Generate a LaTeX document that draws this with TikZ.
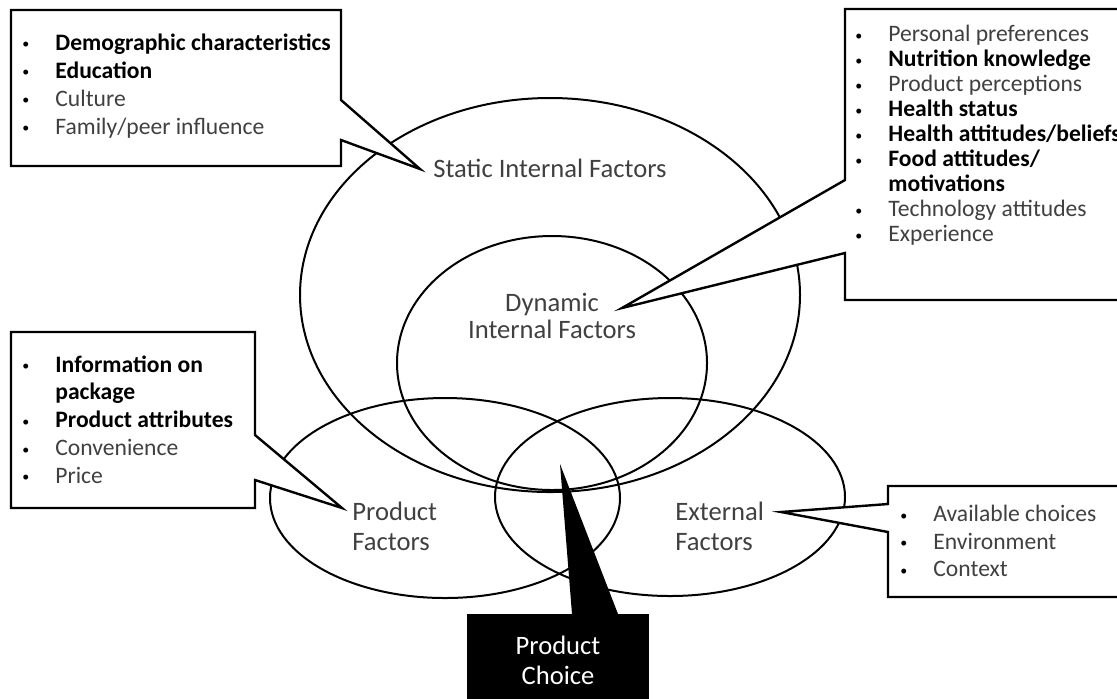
\documentclass[tikz,border=0pt]{standalone}
\usepackage{fontspec}
\setmainfont{Carlito}
\usepackage{xcolor}

\definecolor{txtgray}{RGB}{64,64,64}
\newcommand{\bul}{\makebox[17.5pt][l]{\hspace{1pt}\raisebox{0.7pt}{\fontsize{7}{7}\selectfont\textbullet}}}
\newcommand{\bitem}[1]{\bul\textbf{#1}}
\newcommand{\nitem}[1]{\bul{\color{txtgray}#1}}
\newcommand{\cont}[1]{\hspace*{17.5pt}\textbf{#1}}

\begin{document}
\begin{tikzpicture}[x=0.5pt, y=-0.5pt,
    ring/.style={line width=1pt},
    callout/.style={draw, fill=white, line width=1.2pt, line join=miter},
    list/.style={anchor=north west, inner sep=0pt, align=left},
    tag/.style={inner sep=0pt, text=txtgray, font=\fontsize{13.3}{15}\selectfont}]

        \clip (0, 0) rectangle (1117, 698);

        % the four factor ellipses
        \draw[ring] (550, 295) ellipse [x radius=250, y radius=197];
        \draw[ring] (552, 363) ellipse [x radius=155, y radius=127];
        \draw[ring] (445, 498) ellipse [x radius=175, y radius=100];
        \draw[ring] (670, 497) ellipse [x radius=175, y radius=99];

        % callout top left
        \draw[callout] (11, 10) -- (341, 10) -- (341, 100) -- (420, 169) -- (341, 140) -- (341, 166) -- (11, 166) -- cycle;
        \node[list, font=\fontsize{11.8}{14}\selectfont] (staticlist) at (20, 33)
            {\bitem{Demographic characteristics}\\ \bitem{Education}\\ \nitem{Culture}\\ \nitem{Family/peer influence}};

        % callout top right
        \draw[callout] (845, 9) -- (1130, 9) -- (1130, 300) -- (845, 300) -- (845, 253) -- (622, 308) -- (845, 180) -- cycle;
        \node[list, font=\fontsize{11.8}{12.5}\selectfont] (dynamiclist) at (853, 25)
            {\nitem{Personal preferences}\\ \bitem{Nutrition knowledge}\\ \nitem{Product perceptions}\\
             \bitem{Health status}\\ \bitem{Health attitudes/beliefs}\\ \bitem{Food attitudes/}\\ \cont{motivations}\\
             \nitem{Technology attitudes}\\ \nitem{Experience}};

        % callout middle left
        \draw[callout] (11, 332) -- (255, 332) -- (255, 435) -- (342, 508) -- (255, 480) -- (255, 508) -- (11, 508) -- cycle;
        \node[list, font=\fontsize{11.8}{13.9}\selectfont] (productlist) at (20, 355)
            {\bitem{Information on}\\ \cont{package}\\ \bitem{Product attributes}\\ \nitem{Convenience}\\ \nitem{Price}};

        % callout bottom right
        \draw[callout] (888, 486) -- (1130, 486) -- (1130, 597) -- (888, 597) -- (888, 532) -- (781, 512) -- (888, 504) -- cycle;
        \node[list, font=\fontsize{11.8}{13.75}\selectfont] (externallist) at (898, 505)
            {\nitem{Available choices}\\ \nitem{Environment}\\ \nitem{Context}};

        % product choice box and its pointer
        \fill (572, 614) -- (560, 464) -- (618, 614) -- cycle;
        \fill (467, 614) rectangle (649, 710);

        % labels
        \node[tag] (static) at (550, 168) {Static Internal Factors};
        \node[tag, align=center, font=\fontsize{13.3}{13.5}\selectfont] (dynamic) at (552, 316) {Dynamic\\Internal Factors};
        \node[tag, align=left, anchor=west] (product) at (352, 526) {Product\\Factors};
        \node[tag, align=left, anchor=west] (external) at (675, 526) {External\\Factors};
        \node[tag, align=center, text=white] (choice) at (558, 660) {Product\\Choice};

\end{tikzpicture}
\end{document}
